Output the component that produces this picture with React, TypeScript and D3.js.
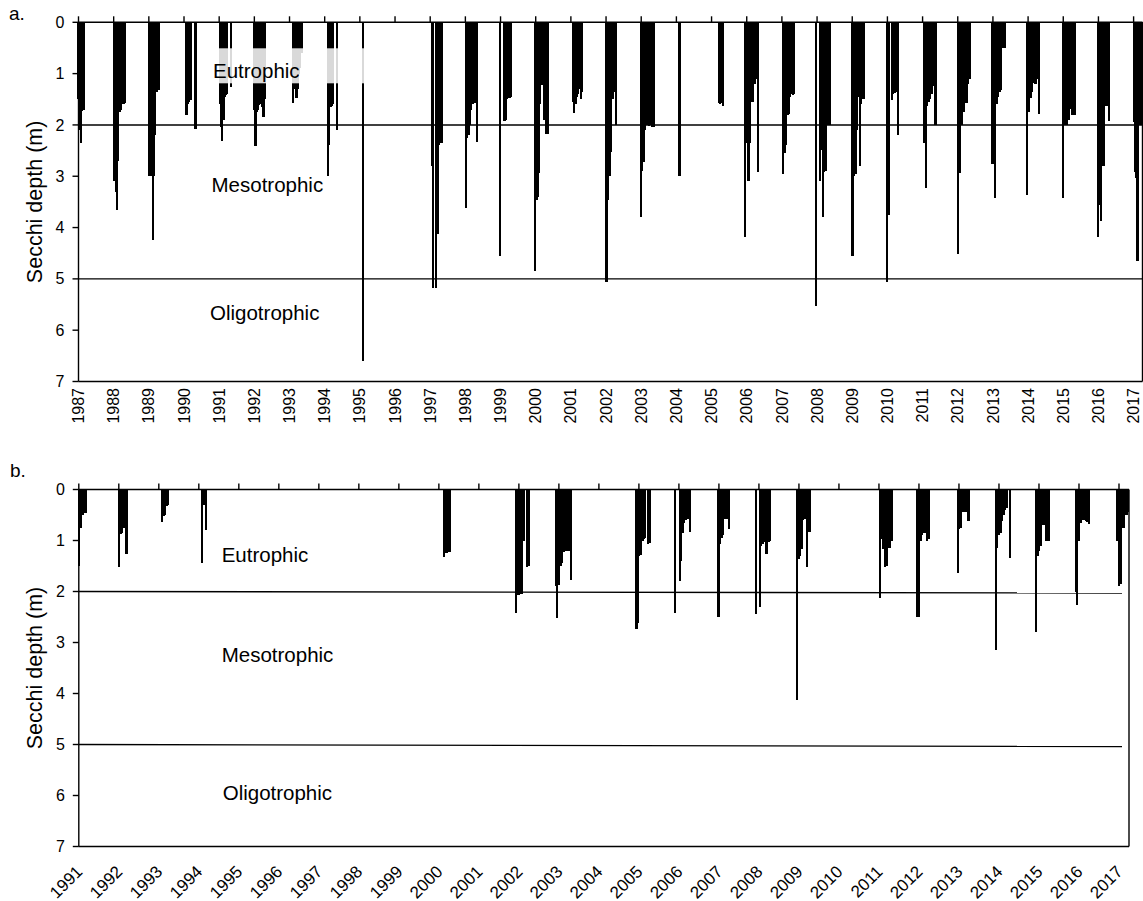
import React from "react";
import * as d3 from "d3";

type Obs = [number, number]; // [decimal year, Secchi depth in metres]

// Lake a: Secchi disk readings, 1987-2017
const secchiLakeA: Obs[] = [
  [1987.0, 1.5], [1987.03, 2.1], [1987.06, 2.35], [1987.09, 1.72], [1987.12, 1.7], [1987.15, 1.7],
  [1988.0, 3.1], [1988.04, 3.1], [1988.07, 3.3], [1988.1, 3.65], [1988.13, 2.7], [1988.17, 1.75], [1988.2, 1.7], [1988.24, 1.6], [1988.28, 1.6], [1988.32, 1.58],
  [1989.02, 3.0], [1989.05, 3.0], [1989.08, 3.0], [1989.12, 4.24], [1989.15, 3.0], [1989.18, 2.2], [1989.22, 1.35], [1989.26, 1.32], [1989.29, 1.32],
  [1990.06, 1.8], [1990.09, 1.8], [1990.12, 1.6], [1990.15, 1.55], [1990.18, 1.52], [1990.21, 1.52], [1990.31, 2.08], [1990.33, 2.08],
  [1991.03, 1.6], [1991.06, 2.05], [1991.09, 2.31], [1991.12, 1.9], [1991.15, 1.45], [1991.18, 1.42], [1991.22, 1.4], [1991.33, 1.27],
  [1992.0, 1.7], [1992.03, 2.42], [1992.06, 1.75], [1992.09, 1.7], [1992.12, 1.62], [1992.16, 1.6], [1992.19, 1.58], [1992.22, 1.65], [1992.26, 1.84], [1992.29, 1.5],
  [1993.11, 1.58], [1993.14, 1.3], [1993.17, 1.2], [1993.2, 1.48], [1993.23, 1.3], [1993.27, 1.0], [1993.3, 0.9], [1993.34, 0.6],
  [1994.1, 3.0], [1994.13, 2.4], [1994.17, 1.65], [1994.21, 1.64], [1994.24, 1.6], [1994.36, 2.1],
  [1995.08, 6.6],
  [1997.05, 2.8], [1997.08, 5.18], [1997.16, 5.18], [1997.19, 2.5], [1997.22, 4.12], [1997.25, 2.4], [1997.29, 2.35], [1997.33, 2.35],
  [1998.02, 3.62], [1998.05, 2.26], [1998.09, 2.2], [1998.13, 2.0], [1998.17, 1.7], [1998.2, 1.6], [1998.24, 1.55], [1998.27, 1.58], [1998.32, 2.33],
  [1998.99, 4.56], [1999.11, 1.93], [1999.14, 1.9], [1999.18, 1.5], [1999.22, 1.47], [1999.26, 1.47], [1999.3, 1.45],
  [1999.98, 4.84], [2000.02, 3.46], [2000.05, 3.4], [2000.09, 2.94], [2000.13, 1.6], [2000.17, 1.22], [2000.21, 1.22], [2000.25, 1.9], [2000.3, 2.17], [2000.34, 2.17],
  [2001.07, 1.55], [2001.1, 1.77], [2001.13, 1.6], [2001.17, 1.45], [2001.21, 1.4], [2001.24, 1.3], [2001.28, 1.49], [2001.32, 1.35],
  [2002.01, 5.06], [2002.06, 3.46], [2002.1, 3.0], [2002.14, 2.52], [2002.19, 1.5], [2002.23, 1.36], [2002.28, 2.0],
  [2002.99, 3.79], [2003.03, 2.9], [2003.07, 2.72], [2003.11, 2.1], [2003.15, 2.0], [2003.19, 2.0], [2003.23, 2.02], [2003.27, 2.0], [2003.31, 2.05], [2003.35, 2.05],
  [2004.09, 3.0],
  [2005.22, 1.58], [2005.25, 1.6], [2005.29, 1.58], [2005.32, 1.64],
  [2005.95, 4.18], [2005.99, 2.36], [2006.05, 3.1], [2006.09, 2.36], [2006.13, 1.55], [2006.18, 1.55], [2006.23, 1.2], [2006.27, 1.1], [2006.32, 2.92],
  [2007.04, 2.95], [2007.08, 2.55], [2007.12, 2.4], [2007.16, 1.8], [2007.2, 1.78], [2007.24, 1.45], [2007.28, 1.4], [2007.32, 1.42], [2007.35, 1.4],
  [2007.97, 5.52], [2008.08, 3.1], [2008.12, 2.48], [2008.16, 3.79], [2008.2, 2.92], [2008.24, 2.9], [2008.28, 2.0], [2008.33, 2.0], [2008.37, 2.0],
  [2009.01, 4.56], [2009.05, 3.0], [2009.09, 2.95], [2009.13, 2.1], [2009.17, 1.45], [2009.21, 2.8], [2009.25, 1.6], [2009.29, 1.5], [2009.33, 1.5],
  [2009.98, 5.06], [2010.03, 3.75], [2010.12, 1.51], [2010.16, 1.4], [2010.2, 1.38], [2010.24, 1.35], [2010.29, 2.2],
  [2011.05, 2.36], [2011.09, 3.23], [2011.13, 1.64], [2011.18, 1.55], [2011.22, 1.5], [2011.26, 1.4], [2011.3, 1.25], [2011.35, 2.0], [2011.39, 2.0],
  [2012.01, 4.52], [2012.05, 2.94], [2012.09, 2.0], [2012.13, 2.0], [2012.17, 1.74], [2012.21, 1.5], [2012.25, 1.58], [2012.3, 1.2], [2012.34, 1.1],
  [2012.99, 2.77], [2013.03, 2.77], [2013.07, 3.42], [2013.11, 1.6], [2013.15, 1.45], [2013.19, 1.35], [2013.23, 1.32], [2013.27, 0.5], [2013.31, 0.5], [2013.35, 0.5],
  [2013.97, 3.36], [2014.03, 1.74], [2014.08, 1.48], [2014.12, 1.35], [2014.17, 1.19], [2014.21, 1.2], [2014.25, 1.1], [2014.3, 1.79],
  [2014.99, 3.42], [2015.03, 2.0], [2015.07, 2.0], [2015.11, 2.0], [2015.15, 1.9], [2015.2, 1.68], [2015.25, 1.8], [2015.3, 1.8], [2015.34, 1.8],
  [2015.98, 4.18], [2016.03, 3.57], [2016.08, 3.87], [2016.12, 2.81], [2016.16, 2.8], [2016.2, 1.64], [2016.24, 1.64], [2016.29, 1.92],
  [2017.0, 1.94], [2017.04, 2.91], [2017.07, 3.04], [2017.11, 4.66], [2017.15, 2.0], [2017.19, 2.0], [2017.23, 2.0],
];

// Lake b: Secchi disk readings, 1991-2017
const secchiLakeB: Obs[] = [
  [1991.0, 1.5], [1991.03, 0.76], [1991.06, 0.75], [1991.09, 0.5], [1991.12, 0.47], [1991.15, 0.46], [1991.18, 0.46],
  [1992.0, 1.52], [1992.04, 0.88], [1992.08, 0.85], [1992.12, 0.76], [1992.19, 1.27],
  [1993.08, 0.63], [1993.12, 0.52], [1993.15, 0.5], [1993.19, 0.32], [1993.23, 0.3],
  [1994.08, 1.44], [1994.12, 0.3], [1994.17, 0.8],
  [2000.13, 1.32], [2000.17, 1.25], [2000.21, 1.24], [2000.25, 1.22], [2000.28, 1.22],
  [2001.92, 2.43], [2001.96, 2.06], [2002.0, 2.06], [2002.04, 2.05], [2002.08, 2.05], [2002.13, 1.0], [2002.2, 1.52], [2002.24, 1.5],
  [2002.92, 1.9], [2002.96, 2.52], [2003.0, 1.88], [2003.04, 1.5], [2003.08, 1.45], [2003.13, 1.22], [2003.17, 1.2], [2003.21, 1.2], [2003.25, 1.2], [2003.3, 1.77],
  [2004.94, 2.74], [2004.97, 2.62], [2005.01, 1.3], [2005.05, 1.28], [2005.09, 1.0], [2005.13, 0.98], [2005.16, 0.95], [2005.23, 1.06], [2005.27, 1.04],
  [2005.9, 2.42], [2006.02, 1.8], [2006.05, 1.4], [2006.09, 0.85], [2006.13, 0.65], [2006.17, 0.6], [2006.22, 0.58], [2006.28, 0.84],
  [2006.99, 2.5], [2007.03, 1.07], [2007.07, 0.96], [2007.11, 0.9], [2007.15, 0.58], [2007.19, 0.57], [2007.26, 0.78],
  [2007.93, 2.45], [2008.02, 2.3], [2008.06, 1.1], [2008.1, 1.07], [2008.14, 1.03], [2008.19, 1.27], [2008.24, 1.03], [2008.28, 1.0],
  [2008.95, 4.12], [2008.99, 1.37], [2009.03, 1.3], [2009.07, 1.16], [2009.11, 0.6], [2009.15, 0.57], [2009.2, 1.51], [2009.25, 0.83], [2009.28, 0.83],
  [2011.03, 2.12], [2011.07, 0.98], [2011.11, 1.17], [2011.15, 1.51], [2011.19, 1.5], [2011.23, 1.14], [2011.27, 1.14], [2011.32, 1.0],
  [2011.96, 2.5], [2012.0, 2.5], [2012.04, 1.0], [2012.08, 0.9], [2012.12, 0.85], [2012.16, 0.85], [2012.21, 1.0], [2012.25, 0.98],
  [2012.97, 1.64], [2013.01, 0.77], [2013.05, 0.75], [2013.09, 0.44], [2013.13, 0.45], [2013.18, 0.44], [2013.24, 0.62],
  [2013.92, 3.15], [2013.96, 1.15], [2014.0, 0.9], [2014.04, 0.85], [2014.08, 0.62], [2014.12, 0.5], [2014.16, 0.4], [2014.2, 0.36], [2014.27, 1.35],
  [2014.93, 2.8], [2014.97, 1.3], [2015.01, 1.2], [2015.05, 1.1], [2015.09, 0.7], [2015.13, 0.7], [2015.18, 1.0], [2015.22, 1.0], [2015.26, 1.0],
  [2015.93, 2.0], [2015.96, 2.26], [2016.0, 1.0], [2016.04, 0.65], [2016.08, 0.6], [2016.12, 0.6], [2016.17, 0.62], [2016.21, 0.64], [2016.26, 0.67],
  [2016.96, 1.0], [2017.0, 1.9], [2017.04, 1.85], [2017.08, 0.75], [2017.12, 0.76], [2017.16, 0.5], [2017.2, 0.5], [2017.23, 0.45],
];

const yearTicksA = [1987, 1988, 1989, 1990, 1991, 1992, 1993, 1994, 1995, 1996, 1997, 1998, 1999, 2000, 2001, 2002, 2003, 2004, 2005, 2006, 2007, 2008, 2009, 2010, 2011, 2012, 2013, 2014, 2015, 2016, 2017];
const yearTicksB = [1991, 1992, 1993, 1994, 1995, 1996, 1997, 1998, 1999, 2000, 2001, 2002, 2003, 2004, 2005, 2006, 2007, 2008, 2009, 2010, 2011, 2012, 2013, 2014, 2015, 2016, 2017];
const depthTicks = [0, 1, 2, 3, 4, 5, 6, 7];
const trophicBounds = [2, 5];
const trophicBoundsEndB = [2.03, 5.04];
const trophicNames = ["Eutrophic", "Mesotrophic", "Oligotrophic"];
const panelTags = ["a.", "b."];
const depthTitle = "Secchi depth (m)";

const FONT = "'Liberation Sans', Arial, Helvetica, sans-serif";
const STROKE = 1.4;

type PanelCfg = {
  tag: string;
  tagPos: [number, number];
  data: Obs[];
  years: number[];
  xDomain: [number, number];
  left: number;
  right: number;
  top: number;
  bottom: number;
  labelStyle: "vertical" | "diagonal";
  zoneLabelPos: [number, number][];
  boundsEnd: number[];
  boundsEndYear: number;
  haze?: { x0: number; x1: number; y0: number; y1: number };
};

function Panel({ cfg }: { cfg: PanelCfg }) {
  const x = d3.scaleLinear().domain(cfg.xDomain).range([cfg.left, cfg.right]);
  const y = d3.scaleLinear().domain([0, 7]).range([cfg.top, cfg.bottom]);
  const barW = 2.2;
  const midY = (cfg.top + cfg.bottom) / 2;

  return (
    <g>
      {/* sample columns hanging from the surface */}
      <g shapeRendering="crispEdges">
        {cfg.data.map(([t, d], i) => (
          <rect key={i} x={x(t) - barW / 2} y={y(0)} width={barW} height={y(d) - y(0)} fill="#000" />
        ))}
      </g>

      {cfg.haze && (
        <rect
          x={cfg.haze.x0}
          y={cfg.haze.y0}
          width={cfg.haze.x1 - cfg.haze.x0}
          height={cfg.haze.y1 - cfg.haze.y0}
          fill="#fff"
          fillOpacity={0.85}
        />
      )}

      {/* trophic state boundaries */}
      {trophicBounds.map((b, i) => (
        <line
          key={b}
          x1={cfg.left}
          x2={x(cfg.boundsEndYear)}
          y1={y(b)}
          y2={y(cfg.boundsEnd[i])}
          stroke="#000"
          strokeWidth={STROKE}
        />
      ))}

      {/* frame: surface axis, depth axis, bottom and right edges */}
      <line x1={cfg.left} x2={cfg.right} y1={y(0)} y2={y(0)} stroke="#000" strokeWidth={STROKE} />
      <line x1={cfg.left} x2={cfg.left} y1={y(0)} y2={y(7)} stroke="#000" strokeWidth={STROKE} />
      <line x1={cfg.left} x2={cfg.right} y1={y(7)} y2={y(7)} stroke="#000" strokeWidth={STROKE} />
      <line x1={cfg.right} x2={cfg.right} y1={y(0)} y2={y(7)} stroke="#000" strokeWidth={STROKE} />

      {/* year ticks on the surface axis */}
      {cfg.years.map((yr) => (
        <line key={yr} x1={x(yr)} x2={x(yr)} y1={y(0) - 6} y2={y(0)} stroke="#000" strokeWidth={STROKE} />
      ))}

      {/* depth ticks and labels */}
      {depthTicks.map((d) => (
        <g key={d}>
          <line x1={cfg.left - 6} x2={cfg.left} y1={y(d)} y2={y(d)} stroke="#000" strokeWidth={STROKE} />
          <text x={cfg.left - 14} y={y(d)} dy="0.35em" textAnchor="end" fontSize={16} fontFamily={FONT} fill="#000">
            {d}
          </text>
        </g>
      ))}

      {/* year labels along the bottom */}
      {cfg.years.map((yr) =>
        cfg.labelStyle === "vertical" ? (
          <text
            key={yr}
            transform={`translate(${x(yr)},${cfg.bottom + 6.5}) rotate(-90)`}
            dy="0.35em"
            textAnchor="end"
            fontSize={16}
            fontFamily={FONT}
            fill="#000"
          >
            {yr}
          </text>
        ) : (
          <text
            key={yr}
            transform={`translate(${x(yr) + 0.5},${cfg.bottom + 22}) rotate(-45)`}
            dy="0.35em"
            textAnchor="end"
            fontSize={17}
            fontFamily={FONT}
            fill="#000"
          >
            {yr}
          </text>
        )
      )}

      {/* trophic zone names */}
      {trophicNames.map((name, i) => (
        <text
          key={name}
          x={cfg.zoneLabelPos[i][0]}
          y={cfg.zoneLabelPos[i][1]}
          fontSize={20.5}
          fontFamily={FONT}
          fill="#000"
        >
          {name}
        </text>
      ))}

      {/* depth axis title */}
      <text
        transform={`translate(34,${midY}) rotate(-90)`}
        dy="0.35em"
        textAnchor="middle"
        fontSize={21.5}
        fontFamily={FONT}
        fill="#000"
      >
        {depthTitle}
      </text>

      <text x={cfg.tagPos[0]} y={cfg.tagPos[1]} fontSize={19} fontFamily={FONT} fill="#000">
        {cfg.tag}
      </text>
    </g>
  );
}

export default function App() {
  const panelA: PanelCfg = {
    tag: panelTags[0],
    tagPos: [9, 20],
    data: secchiLakeA,
    years: yearTicksA,
    xDomain: [1987, 2017.253],
    left: 78.5,
    right: 1142.5,
    top: 22.3,
    bottom: 381.5,
    labelStyle: "vertical",
    zoneLabelPos: [
      [213, 78],
      [211.5, 192.3],
      [210, 320],
    ],
    boundsEnd: trophicBounds,
    boundsEndYear: 2017.253,
    haze: { x0: 207, x1: 367, y0: 48.3, y1: 83.3 },
  };

  const panelB: PanelCfg = {
    tag: panelTags[1],
    tagPos: [10, 477],
    data: secchiLakeB,
    years: yearTicksB,
    xDomain: [1991, 2017.25],
    left: 78.8,
    right: 1129,
    top: 489.5,
    bottom: 846.5,
    labelStyle: "diagonal",
    zoneLabelPos: [
      [221.7, 561.7],
      [221.7, 661.7],
      [222.7, 800],
    ],
    boundsEnd: trophicBoundsEndB,
    boundsEndYear: 2017.075,
  };

  return (
    <svg
      width={1143}
      height={901}
      viewBox="0 0 1143 901"
      style={{ position: "absolute", left: 0, top: 0, background: "#fff" }}
    >
      <rect x={0} y={0} width={1143} height={901} fill="#fff" />
      <Panel cfg={panelA} />
      <Panel cfg={panelB} />
    </svg>
  );
}
